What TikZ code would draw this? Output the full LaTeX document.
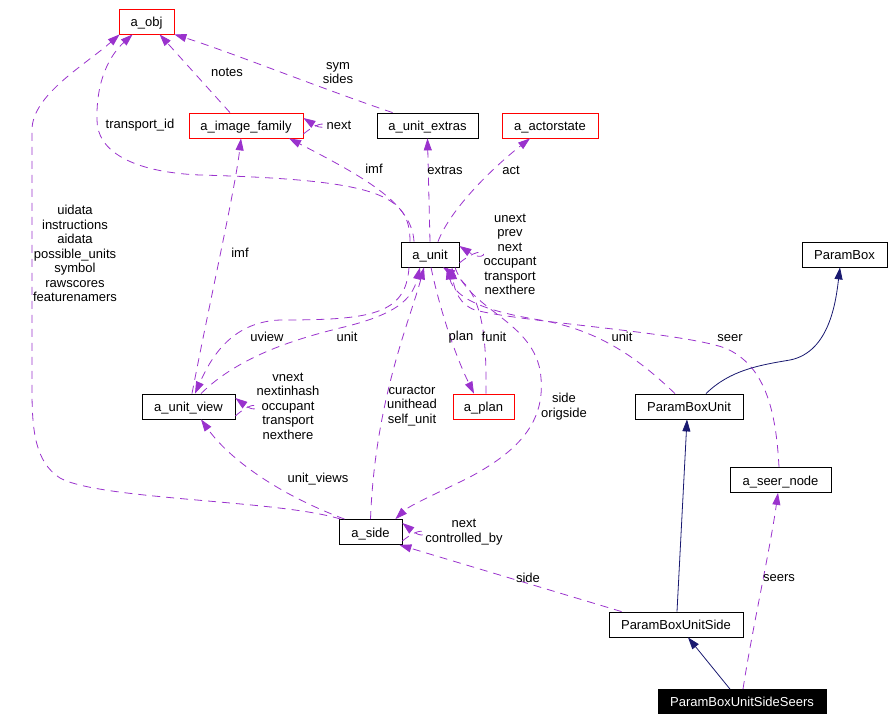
\documentclass[tikz,border=0pt]{standalone}
\usepackage{fontspec}
\setmainfont{Liberation Sans}
\usetikzlibrary{arrows.meta,calc,positioning}
\definecolor{usecol}{RGB}{154,50,205}
\definecolor{inhcol}{RGB}{25,25,112}

\begin{document}
\begin{tikzpicture}[x=1pt,y=-1pt,font=\fontsize{13}{14.5}\selectfont]
    \tikzstyle{cls}=[draw, rectangle, line width=0.8pt, inner sep=0pt, minimum height=25pt, text height=10pt, text depth=0pt]
    \tikzstyle{ext}=[cls, draw=red]
    \tikzstyle{use}=[usecol, line width=0.8pt, dash pattern=on 8pt off 6pt, -{Triangle[length=12pt,width=8pt]}]
    \tikzstyle{inh}=[inhcol, line width=0.8pt, -{Triangle[length=12pt,width=8pt]}]
    \tikzstyle{lbl}=[align=center, inner sep=0pt]

    \useasboundingbox (0,0) rectangle (892,721);

    % classes
    \node[ext, minimum width=55pt]  (obj)    at (146.5,21.5) {a\_obj};
    \node[ext, minimum width=114pt] (imgfam) at (246,125.5)  {a\_image\_family};
    \node[cls, minimum width=101pt] (extras) at (427.5,125.5) {a\_unit\_extras};
    \node[ext, minimum width=96pt]  (actor)  at (550,125.5)  {a\_actorstate};
    \node[cls, minimum width=58pt]  (unit)   at (430,254.5)  {a\_unit};
    \node[cls, minimum width=85pt]  (pbox)   at (844.5,254.5) {ParamBox};
    \node[cls, minimum width=93pt]  (uview)  at (188.5,406.5) {a\_unit\_view};
    \node[ext, minimum width=61pt]  (plan)   at (483.5,406.5) {a\_plan};
    \node[cls, minimum width=108pt] (pbu)    at (689,406.5)  {ParamBoxUnit};
    \node[cls, minimum width=101pt] (seer)   at (780.5,480)  {a\_seer\_node};
    \node[cls, minimum width=63pt]  (side)   at (370.5,532)  {a\_side};
    \node[cls, minimum width=134pt] (pbus)   at (676,624.5)  {ParamBoxUnitSide};
    \node[cls, fill=black, text=white, minimum width=168pt, minimum height=24pt]
                                    (pbuss)  at (742,701.5)  {ParamBoxUnitSideSeers};

    % members
    \draw[use] ([xshift=2]side.north west) .. controls (280,500) and (100,500) .. (60,478)
        .. controls (35,462) and (32,430) .. (32,390) -- (32,130)
        .. controls (32,95) and (85,65) .. ([xshift=1]obj.south west);
    \draw[use] ([xshift=-20]unit.north) .. controls (410,195) and (380,180) .. (200,175)
        .. controls (130,172) and (97,150) .. (97,120)
        .. controls (96,80) and (110,55) .. ([xshift=14]obj.south west);
    \draw[use] ([xshift=-16]imgfam.north) -- ([xshift=41]obj.south west);
    \draw[use] ([xshift=16]extras.north west) .. controls (320,88) and (230,52) .. (obj.south east);
    \draw[use] ([yshift=-8.5]imgfam.east) .. controls (330,112) and (330,135) .. ([yshift=7.5]imgfam.east);
    \draw[use] ([xshift=-16]unit.north) .. controls (412,205) and (370,180) .. ([xshift=43]imgfam.south);
    \draw[use] (unit.north) -- (extras.south);
    \draw[use] ([xshift=8]unit.north) .. controls (450,210) and (490,170) .. ([xshift=-20]actor.south);
    \draw[use] ([yshift=-8.5]unit.east) .. controls (490,238) and (490,266) .. ([yshift=8.5]unit.east);
    \draw[use] ([xshift=3.5]uview.north) .. controls (210,300) and (235,190) .. ([xshift=-5]imgfam.south);
    \draw[use] ([xshift=-21]unit.south) .. controls (406,315) and (370,320) .. (280,320)
        .. controls (230,322) and (210,360) .. ([xshift=6.5]uview.north);
    \draw[use] ([xshift=12.5]uview.north) .. controls (240,355) and (300,338) .. (340,328)
        .. controls (395,315) and (412,300) .. ([xshift=-10]unit.south);
    \draw[use] ([yshift=-9.5]uview.east) .. controls (262,392) and (262,418) .. ([yshift=8.5]uview.east);
    \draw[use] (side.north) .. controls (375,400) and (410,320) .. ([xshift=-6]unit.south);
    \draw[use] ([xshift=1]unit.south) .. controls (440,310) and (455,355) .. ([xshift=-9.5]plan.north);
    \draw[use] ([xshift=2.5]plan.north) .. controls (487,320) and (478,290) .. ([xshift=13]unit.south);
    \draw[use] ([xshift=25]unit.south) .. controls (470,310) and (530,320) .. (540,370)
        .. controls (548,420) and (520,450) .. (470,477)
        .. controls (440,492) and (410,505) .. ([xshift=-7]side.north east);
    \draw[use] ([xshift=-14]pbu.north) .. controls (640,360) and (600,330) .. (540,320)
        .. controls (490,312) and (455,300) .. ([xshift=17]unit.south);
    \draw[use] ([xshift=-1.5]seer.north) .. controls (776,410) and (765,365) .. (725,348)
        .. controls (680,332) and (520,322) .. (475,310)
        .. controls (460,305) and (454,290) .. ([xshift=22]unit.south);
    \draw[use] ([xshift=6]side.north west) .. controls (280,495) and (230,460) .. ([xshift=12.5]uview.south);
    \draw[use] ([yshift=-9]side.east) .. controls (430,518) and (430,545) .. ([yshift=9]side.east);
    \draw[use] ([xshift=13]pbus.north west) -- ([xshift=-3]side.south east);
    \draw[use] ([xshift=1]pbuss.north) .. controls (752,630) and (770,550) .. ([xshift=-2.5]seer.south);

    % bases
    \draw[inh] ([xshift=-12]pbuss.north) -- ([xshift=12]pbus.south);
    \draw[inh] ([xshift=1]pbus.north) -- ([xshift=-2]pbu.south);
    \draw[inh] ([xshift=17]pbu.north) .. controls (730,370) and (760,365) .. (790,360)
        .. controls (830,352) and (836,300) .. ([xshift=-4.5]pbox.south);

    % labels
    \node[lbl] (l-notes)  at (227,72)    {notes};
    \node[lbl] (l-sym)    at (338,73)    {sym\\sides};
    \node[lbl] (l-tid)    at (140,125)   {transport\_id};
    \node[lbl] (l-fnext)  at (339,125)   {next};
    \node[lbl] (l-imf)    at (374,169)   {imf};
    \node[lbl] (l-extras) at (445,170)   {extras};
    \node[lbl] (l-act)    at (511,170)   {act};
    \node[lbl] (l-unext)  at (510,254.5) {unext\\prev\\next\\occupant\\transport\\nexthere};
    \node[lbl] (l-uidata) at (75,253.5)  {uidata\\instructions\\aidata\\possible\_units\\symbol\\rawscores\\featurenamers};
    \node[lbl] (l-vimf)   at (240,253)   {imf};
    \node[lbl] (l-uview)  at (267,337)   {uview};
    \node[lbl] (l-vunit)  at (347,337)   {unit};
    \node[lbl] (l-plan)   at (461,337)   {plan};
    \node[lbl] (l-funit)  at (494,337)   {funit};
    \node[lbl] (l-bunit)  at (622,337)   {unit};
    \node[lbl] (l-seer)   at (730,338)   {seer};
    \node[lbl] (l-vnext)  at (288,406)   {vnext\\nextinhash\\occupant\\transport\\nexthere};
    \node[lbl] (l-cur)    at (412,406)   {curactor\\unithead\\self\_unit};
    \node[lbl] (l-side)   at (564,406.5) {side\\origside};
    \node[lbl] (l-uviews) at (318,479)   {unit\_views};
    \node[lbl] (l-snext)  at (464,532)   {next\\controlled\_by};
    \node[lbl] (l-bside)  at (528,578)   {side};
    \node[lbl] (l-seers)  at (779,578)   {seers};
\end{tikzpicture}
\end{document}
